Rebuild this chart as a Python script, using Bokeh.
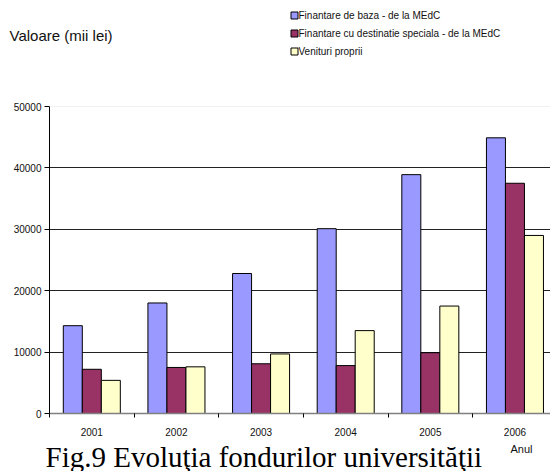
from bokeh.plotting import figure
from bokeh.models import ColumnDataSource, Range1d, FixedTicker, Span
from bokeh.layouts import column
from bokeh.transform import dodge
from bokeh.core.properties import value
from bokeh.embed import file_html
from bokeh.resources import INLINE

years = ["2001", "2002", "2003", "2004", "2005", "2006"]
finantare_baza = [14300, 18000, 22800, 30100, 38900, 44900]
finantare_speciala = [7200, 7500, 8100, 7800, 9900, 37500]
venituri_proprii = [5400, 7600, 9700, 13500, 17500, 29000]
series_names = ["Finantare de baza - de la MEdC",
                "Finantare cu destinatie speciala - de la MEdC",
                "Venituri proprii"]
y_ticks = [0, 10000, 20000, 30000, 40000, 50000]
y_title = "Valoare (mii lei)"
x_title = "Anul"
caption = "Fig.9 Evoluţia fondurilor universităţii"

colors = ["#9999FF", "#993366", "#FFFFCC"]
W = 550


def blank(h):
    f = figure(width=W, height=h, output_backend="svg", toolbar_location=None,
               x_axis_type=None, y_axis_type=None,
               x_range=Range1d(0, W), y_range=Range1d(h, 0),
               min_border=0, frame_align=False)
    f.outline_line_color = None
    f.xgrid.visible = False
    f.ygrid.visible = False
    return f


# ---------- header: y title + legend ----------
HH = 98
head = blank(HH)
head.text(x=[9], y=[35], text=[y_title], text_font=value("Liberation Sans"),
          text_font_size="15px", text_baseline="middle", text_color="#111111")
leg_y = [15, 33, 51]
head.scatter(x=[294] * 3, y=leg_y, marker="square", size=7, fill_color=colors,
             line_color="black", line_width=1)
head.text(x=[298] * 3, y=leg_y, text=series_names, text_font=value("Liberation Sans"),
          text_font_size="10px", text_baseline="middle", text_color="#111111")

# ---------- main chart ----------
xs = list(range(1, len(years) + 1))
src = ColumnDataSource(dict(x=xs, a=finantare_baza, b=finantare_speciala, c=venituri_proprii))

p = figure(width=W, height=343, output_backend="svg", toolbar_location=None,
           x_range=Range1d(0.5, 6.42), y_range=Range1d(0, 50000),
           min_border_left=49, min_border_right=0, min_border_top=8, min_border_bottom=28,
           frame_align=False)
p.outline_line_color = None

bw = 0.2246
for key, off, col in zip(["a", "b", "c"], [-bw, 0, bw], colors):
    p.vbar(x=dodge("x", off, range=p.x_range), top=key, width=bw, source=src,
           fill_color=col, line_color="black", line_width=1)

p.xgrid.visible = False
p.ygrid.ticker = FixedTicker(ticks=y_ticks[1:-1])
p.ygrid.grid_line_color = "#222222"
p.ygrid.grid_line_width = 1
p.add_layout(Span(location=y_ticks[-1], dimension="width", line_color="#e4e4e4", line_width=1))

p.yaxis.ticker = FixedTicker(ticks=y_ticks)
p.yaxis.axis_line_color = "black"
p.yaxis.major_tick_out = 5
p.yaxis.major_tick_in = 0
p.yaxis.minor_tick_line_color = None
p.yaxis.major_label_text_font = "Liberation Sans"
p.yaxis.major_label_text_font_size = "10px"
p.yaxis.major_label_text_color = "#111111"
p.yaxis.major_label_standoff = 3
p.yaxis.formatter.use_scientific = False

p.xaxis.ticker = FixedTicker(ticks=xs, minor_ticks=[i + 0.5 for i in range(0, len(years) + 1)])
p.xaxis.major_label_overrides = {x: y for x, y in zip(xs, years)}
p.xaxis.axis_line_color = "#808080"
p.xaxis.axis_line_width = 1.5
p.xaxis.major_tick_line_color = None
p.xaxis.major_tick_out = 0
p.xaxis.major_tick_in = 0
p.xaxis.minor_tick_line_color = "black"
p.xaxis.minor_tick_out = 4
p.xaxis.minor_tick_in = 0
p.xaxis.major_label_standoff = 10
p.xaxis.major_label_text_font = "Liberation Sans"
p.xaxis.major_label_text_font_size = "10px"
p.xaxis.major_label_text_color = "#111111"

# ---------- footer: caption + x title ----------
FH = 30
foot = blank(FH)
foot.text(x=[45], y=[15], text=[caption], text_font=value("Liberation Serif"),
          text_font_size="29px", text_baseline="middle", text_color="black")
foot.quad(left=[508], right=[545], top=[0], bottom=[13], fill_color="white", line_color=None)
foot.text(x=[510], y=[7], text=[x_title], text_font=value("Liberation Sans"),
          text_font_size="11px", text_baseline="middle", text_color="#111111")

layout = column(head, p, foot, spacing=0)
open("out.html", "w").write(file_html(layout, INLINE))
